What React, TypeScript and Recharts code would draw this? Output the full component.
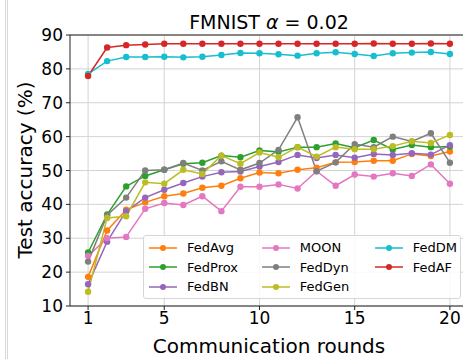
import { LineChart, Line, XAxis, YAxis, CartesianGrid, ReferenceArea } from "recharts";

const rounds = [1, 2, 3, 4, 5, 6, 7, 8, 9, 10, 11, 12, 13, 14, 15, 16, 17, 18, 19, 20];
const xTicks = [1, 5, 10, 15, 20];
const yTicks = [10, 20, 30, 40, 50, 60, 70, 80, 90];

const fedAvg = [18.6, 32.3, 38.4, 40.6, 42.4, 43.2, 44.9, 45.5, 47.7, 49.4, 49.2, 50.2, 50.8, 52.4, 52.5, 52.9, 52.9, 54.9, 54.3, 55.6];
const fedProx = [25.8, 37.0, 45.3, 48.4, 50.2, 52.0, 52.3, 54.4, 53.9, 55.9, 55.5, 56.9, 56.9, 58.0, 56.7, 59.0, 56.2, 57.5, 56.9, 57.1];
const fedBN = [16.4, 29.0, 38.0, 42.0, 44.3, 46.3, 48.2, 49.5, 49.7, 51.2, 52.5, 54.6, 53.7, 54.6, 53.8, 54.9, 54.6, 55.1, 54.7, 57.5];
const moon = [24.8, 30.0, 30.4, 38.7, 40.4, 39.8, 42.4, 38.0, 45.2, 45.2, 45.9, 44.7, 49.8, 45.5, 48.8, 48.2, 49.2, 48.4, 51.8, 46.1];
const fedDyn = [23.1, 36.8, 42.0, 50.0, 50.2, 52.2, 50.0, 52.7, 50.2, 52.2, 56.1, 65.7, 49.8, 52.4, 57.8, 56.9, 60.0, 58.6, 61.0, 52.3];
const fedGen = [14.2, 36.0, 36.5, 46.5, 46.1, 50.2, 49.0, 54.4, 52.0, 55.3, 53.9, 56.9, 54.1, 56.9, 56.3, 56.3, 57.2, 58.6, 58.1, 60.5];
const fedDM = [78.5, 82.3, 83.5, 83.5, 83.6, 83.4, 83.6, 84.1, 84.7, 84.6, 84.3, 83.9, 84.6, 84.9, 84.4, 83.8, 84.6, 84.8, 85.0, 84.4];
const fedAF = [77.9, 86.3, 87.0, 87.2, 87.4, 87.4, 87.4, 87.4, 87.4, 87.4, 87.4, 87.4, 87.4, 87.4, 87.4, 87.5, 87.4, 87.4, 87.5, 87.4];

const series = [
  { key: "FedAvg", values: fedAvg, color: "#ff7f0e" },
  { key: "FedProx", values: fedProx, color: "#2ca02c" },
  { key: "FedBN", values: fedBN, color: "#9467bd" },
  { key: "MOON", values: moon, color: "#e377c2" },
  { key: "FedDyn", values: fedDyn, color: "#7f7f7f" },
  { key: "FedGen", values: fedGen, color: "#bcbd22" },
  { key: "FedDM", values: fedDM, color: "#17becf" },
  { key: "FedAF", values: fedAF, color: "#d62728" },
];

const data = rounds.map((r, i) => {
  const row: Record<string, number> = { round: r };
  series.forEach((s) => (row[s.key] = s.values[i]));
  return row;
});

const font = "'DejaVu Sans', sans-serif";

function LegendBox() {
  const cols = [series.slice(0, 3), series.slice(3, 6), series.slice(6)];
  return (
    <div
      style={{
        position: "absolute",
        left: 143,
        top: 235,
        boxSizing: "border-box",
        display: "flex",
        border: "1px solid #d6d6d6",
        borderRadius: 3,
        background: "rgba(255,255,255,0.85)",
        padding: "2px 0 0 4px",
        width: 318,
        height: 64,
        fontSize: 13,
        color: "#000",
      }}
    >
      {cols.map((col, ci) => (
        <div key={ci} style={{ width: ci === 2 ? 88 : 115, display: "flex", flexDirection: "column" }}>
          {col.map((s) => (
            <div key={s.key} style={{ display: "flex", alignItems: "center", height: 19.5 }}>
              <svg width={30} height={10} style={{ marginRight: 9 }}>
                <line x1={1} y1={5} x2={29} y2={5} stroke={s.color} strokeWidth={1.5} />
                <circle cx={15} cy={5} r={3} fill={s.color} />
              </svg>
              <span>{s.key}</span>
            </div>
          ))}
        </div>
      ))}
    </div>
  );
}

export default function App() {
  return (
    <div style={{ position: "absolute", left: 0, top: 0, width: 463, height: 359, overflow: "hidden", background: "#fff", fontFamily: font }}>
      <div style={{ position: "absolute", left: 5, top: 0, width: 1, height: 359, background: "#d8d8d8" }} />
      <div style={{ position: "absolute", left: 7, top: 0, width: 1, height: 359, background: "#d8d8d8" }} />
      <LineChart width={480} height={359} data={data} margin={{ top: 35, right: 12, bottom: 0, left: 0 }}>
        <CartesianGrid stroke="#d3d3d3" strokeWidth={1} horizontalValues={yTicks} verticalValues={xTicks} />
        <XAxis
          dataKey="round"
          type="number"
          domain={[0.05, 20.95]}
          ticks={xTicks}
          allowDataOverflow
          height={53}
          tickSize={4}
          tickMargin={2}
          tickLine={{ stroke: "#222" }}
          axisLine={false}
          tick={{ fill: "#000", fontSize: 17, fontFamily: font }}
        />
        <YAxis
          type="number"
          domain={[10, 90]}
          ticks={yTicks}
          allowDataOverflow
          width={70}
          tickSize={4}
          tickMargin={3}
          tickLine={{ stroke: "#222" }}
          axisLine={false}
          tick={{ fill: "#000", fontSize: 17, fontFamily: font }}
        />
        {series.map((s) => (
          <Line
            key={s.key}
            dataKey={s.key}
            stroke={s.color}
            strokeWidth={1.5}
            dot={{ r: 3.2, fill: s.color, stroke: s.color, strokeWidth: 0 }}
            activeDot={false}
            isAnimationActive={false}
          />
        ))}
        <ReferenceArea x1={0.05} x2={20.95} y1={10} y2={90} fill="none" stroke="#222" strokeWidth={1} ifOverflow="visible" />
      </LineChart>
      <LegendBox />
      <div style={{ position: "absolute", left: 70, width: 398, top: 10.5, textAlign: "center", fontSize: 19, color: "#000" }}>
        FMNIST <i>α</i> = 0.02
      </div>
      <div style={{ position: "absolute", left: 70, width: 398, top: 334, textAlign: "center", fontSize: 20, color: "#000" }}>
        Communication rounds
      </div>
      <div
        style={{
          position: "absolute",
          left: 25,
          top: 170,
          transform: "translate(-50%, -50%) rotate(-90deg)",
          whiteSpace: "nowrap",
          fontSize: 20,
          color: "#000",
        }}
      >
        Test accuracy (%)
      </div>
    </div>
  );
}
